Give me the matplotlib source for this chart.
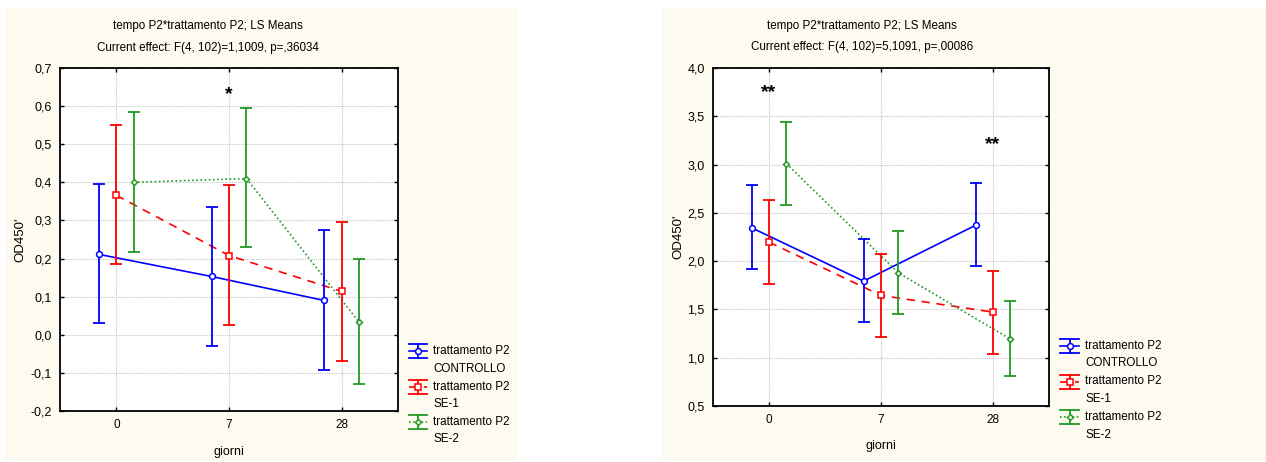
import matplotlib
matplotlib.use("Agg")
import matplotlib.pyplot as plt
from matplotlib.lines import Line2D
from matplotlib.patches import Rectangle
import numpy as np

plt.rcParams['font.family'] = ['Liberation Sans', 'DejaVu Sans']

W, H = 1266, 462

categories = ["0", "7", "28"]
series_labels = ["trattamento P2\nCONTROLLO", "trattamento P2\nSE-1", "trattamento P2\nSE-2"]

# Left panel (effect p=,36034)
left_means = {
    "CONTROLLO": [0.211, 0.153, 0.090],
    "SE-1": [0.366, 0.208, 0.114],
    "SE-2": [0.400, 0.410, 0.033],
}
left_upper = {
    "CONTROLLO": [0.396, 0.336, 0.274],
    "SE-1": [0.551, 0.392, 0.297],
    "SE-2": [0.584, 0.596, 0.199],
}
left_lower = {
    "CONTROLLO": [0.030, -0.029, -0.092],
    "SE-1": [0.186, 0.026, -0.068],
    "SE-2": [0.218, 0.230, -0.128],
}

# Right panel (effect p=,00086)
right_means = {
    "CONTROLLO": [2.345, 1.793, 2.372],
    "SE-1": [2.197, 1.645, 1.472],
    "SE-2": [3.010, 1.879, 1.193],
}
right_upper = {
    "CONTROLLO": [2.786, 2.231, 2.810],
    "SE-1": [2.628, 2.079, 1.897],
    "SE-2": [3.441, 2.317, 1.586],
}
right_lower = {
    "CONTROLLO": [1.921, 1.366, 1.945],
    "SE-1": [1.762, 1.217, 1.034],
    "SE-2": [2.579, 1.452, 0.810],
}

titles_left = ["tempo P2*trattamento P2; LS Means", "Current effect: F(4, 102)=1,1009, p=,36034"]
titles_right = ["tempo P2*trattamento P2; LS Means", "Current effect: F(4, 102)=5,1091, p=,00086"]

left_yticks = [-0.2, -0.1, 0.0, 0.1, 0.2, 0.3, 0.4, 0.5, 0.6, 0.7]
right_yticks = [0.5, 1.0, 1.5, 2.0, 2.5, 3.0, 3.5, 4.0]

# significance marks: (category index, y value, text)
left_marks = [(1, 0.63, "*")]
right_marks = [(0, 3.75, "**"), (2, 3.207, "**")]

keys = ["CONTROLLO", "SE-1", "SE-2"]
colors = {"CONTROLLO": "#0000FF", "SE-1": "#FF0000", "SE-2": "#229922"}
markers = {"CONTROLLO": "o", "SE-1": "s", "SE-2": "D"}
msizes = {"CONTROLLO": 4.2, "SE-1": 4.0, "SE-2": 3.0}
lstyles = {"CONTROLLO": "-", "SE-1": (0, (5, 4)), "SE-2": (0, (1, 1.5))}
offsets = {"CONTROLLO": -0.155, "SE-1": 0.0, "SE-2": 0.155}

fig = plt.figure(figsize=(W / 100, H / 100), dpi=100)
fig.patch.set_facecolor("white")

def fx(px):
    return px / W

def fy(py):
    return 1 - py / H

cream = "#FDFAF0"
fig.add_artist(Rectangle((fx(5), fy(460)), fx(517) - fx(5), fy(8) - fy(460),
                         transform=fig.transFigure, facecolor=cream, edgecolor="none", zorder=-10))
fig.add_artist(Rectangle((fx(662), fy(460)), fx(1266) - fx(662), fy(8) - fy(460),
                         transform=fig.transFigure, facecolor=cream, edgecolor="none", zorder=-10))


def fmt(v, dec):
    return f"{v:.{dec}f}".replace(".", ",")


def draw_panel(ax_rect, means, upper, lower, yticks, titles, title_x, title_y, marks,
               ylab_x, xlab_y, legend_x, legend_y):
    ax = fig.add_axes([fx(ax_rect[0]), fy(ax_rect[3]), fx(ax_rect[2]) - fx(ax_rect[0]),
                       fy(ax_rect[1]) - fy(ax_rect[3])])
    ax.set_facecolor("white")
    x = np.arange(1, len(categories) + 1)
    for k in keys:
        m = np.array(means[k])
        up = np.array(upper[k]) - m
        lo = m - np.array(lower[k])
        xs = x + offsets[k]
        ax.plot(xs, m, color=colors[k], linestyle=lstyles[k], linewidth=1.2, zorder=3)
        ax.errorbar(xs, m, yerr=[lo, up], fmt="none", ecolor=colors[k], elinewidth=1.3,
                    capsize=4, capthick=1.3, zorder=4)
        ax.plot(xs, m, linestyle="none", marker=markers[k], markersize=msizes[k],
                markerfacecolor="white", markeredgecolor=colors[k], markeredgewidth=1.1, zorder=5)
    for ci, yv, txt in marks:
        ax.text(x[ci], yv, txt, ha="center", va="center", fontsize=14, fontweight="bold", zorder=6)
    ax.set_xlim(0.5, 3.5)
    ax.set_ylim(yticks[0], yticks[-1])
    ax.set_xticks(x)
    ax.set_xticklabels(categories, fontsize=8.5)
    ax.set_yticks(yticks)
    ax.set_yticklabels([fmt(v, 1) for v in yticks], fontsize=9)
    ax.grid(True, color="#C4C4C4", linestyle=(0, (1, 1)), linewidth=0.8)
    ax.set_axisbelow(True)
    ax.tick_params(axis="both", direction="in", length=3, width=1, top=True, right=True,
                   pad=6, colors="black")
    for s in ax.spines.values():
        s.set_linewidth(1.3)
        s.set_color("black")

    # titles
    fig.text(fx(title_x), fy(title_y[0]), titles[0], ha="center", va="center", fontsize=8.4)
    fig.text(fx(title_x), fy(title_y[1]), titles[1], ha="center", va="center", fontsize=8.4)
    # axis labels
    fig.text(fx(ylab_x), fy((ax_rect[1] + ax_rect[3]) / 2), "OD450'", rotation=90,
             ha="center", va="center", fontsize=9.5)
    fig.text(fx((ax_rect[0] + ax_rect[2]) / 2), fy(xlab_y), "giorni", ha="center",
             va="center", fontsize=9)

    # legend (manual)
    lx0, lx1 = legend_x
    for i, k in enumerate(keys):
        yc = legend_y + i * 35.5
        c = colors[k]
        xm = (lx0 + lx1) / 2
        fig.add_artist(Line2D([fx(lx0), fx(lx1)], [fy(yc - 7), fy(yc - 7)], color=c,
                              linewidth=1.3, transform=fig.transFigure))
        fig.add_artist(Line2D([fx(lx0), fx(lx1)], [fy(yc + 7), fy(yc + 7)], color=c,
                              linewidth=1.3, transform=fig.transFigure))
        fig.add_artist(Line2D([fx(xm), fx(xm)], [fy(yc - 7), fy(yc + 7)], color=c,
                              linewidth=1.3, transform=fig.transFigure))
        fig.add_artist(Line2D([fx(lx0), fx(lx1)], [fy(yc), fy(yc)], color=c, linewidth=1.2,
                              linestyle=lstyles[k], transform=fig.transFigure))
        fig.add_artist(Line2D([fx(xm)], [fy(yc)], marker=markers[k], markersize=msizes[k],
                              markerfacecolor="white", markeredgecolor=c, markeredgewidth=1.1,
                              linestyle="none", transform=fig.transFigure))
        lines = series_labels[i].split("\n")
        fig.text(fx(lx1 + 6), fy(yc), lines[0], ha="left", va="center", fontsize=8.4)
        fig.text(fx(lx1 + 6), fy(yc + 17.5), lines[1], ha="left", va="center", fontsize=8.4)
    return ax


draw_panel((60, 68, 398, 411), left_means, left_upper, left_lower, left_yticks, titles_left,
           208, (26, 48), left_marks, 20, 452, (409, 427), 351)
draw_panel((713, 68, 1049, 406), right_means, right_upper, right_lower, right_yticks, titles_right,
           862, (26, 47), right_marks, 678, 446, (1060, 1079), 346)

fig.savefig("out.png", dpi=100)
